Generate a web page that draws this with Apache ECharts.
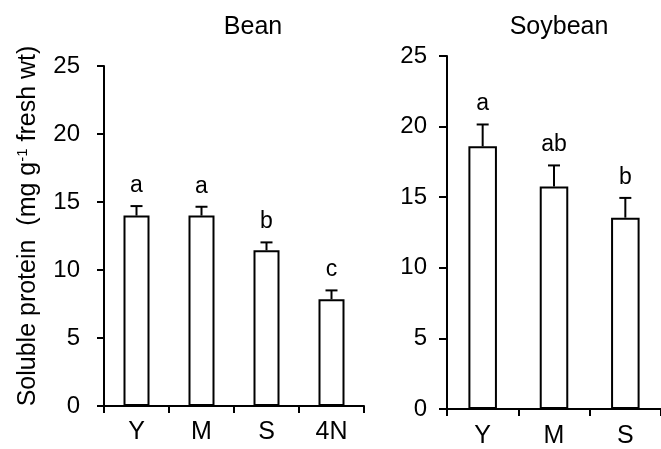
<!DOCTYPE html>
<html><head><meta charset="utf-8">
<script src="https://cdn.jsdelivr.net/npm/echarts@6/dist/echarts.min.js"></script>
<style>html,body{margin:0;padding:0;background:#fff}#c{width:661px;height:449px}</style>
</head><body><div id="c"></div>
<script>
// Bean panel
var beanCats = ['Y', 'M', 'S', '4N'];
var beanMeans = [14.0, 14.0, 11.45, 7.85];
var beanErr = [0.7, 0.65, 0.58, 0.65];
var beanLetters = ['a', 'a', 'b', 'c'];
// Soybean panel
var soyCats = ['Y', 'M', 'S'];
var soyMeans = [18.6, 15.75, 13.55];
var soyErr = [1.55, 1.5, 1.4];
var soyLetters = ['a', 'ab', 'b'];
var yTicks = [0, 5, 10, 15, 20, 25];

var FONT = 'Liberation Sans, Arial, sans-serif';
var FS_Y = 24, FS_X = 25, FS_T = 25, FS_L = 23, FS_N = 25;

function errData(means, errs, letters) {
  return means.map(function (m, i) { return [i, m, errs[i], letters[i]]; });
}
function renderErr(params, api) {
  var x = api.value(0), m = api.value(1), e = api.value(2);
  var p0 = api.coord([x, m]);
  var p1 = api.coord([x, m + e]);
  var half = 6;
  var letter = (params.seriesIndex === 1 ? beanLetters : soyLetters)[params.dataIndex];
  return {
    type: 'group',
    children: [
      { type: 'line', shape: { x1: p0[0], y1: p0[1], x2: p1[0], y2: p1[1] }, style: { stroke: '#000', lineWidth: 2 } },
      { type: 'line', shape: { x1: p1[0] - half, y1: p1[1], x2: p1[0] + half, y2: p1[1] }, style: { stroke: '#000', lineWidth: 2 } },
      { type: 'text', style: { x: p1[0], y: p1[1] - 9, text: letter, textAlign: 'center', textVerticalAlign: 'bottom', fill: '#000', font: FS_L + 'px ' + FONT } }
    ]
  };
}

var axisLineStyle = { color: '#000', width: 2 };
var chart = echarts.init(document.getElementById('c'));
chart.setOption({
  backgroundColor: '#fff',
  animation: false,
  title: [
    { text: 'Bean', left: 248, top: 10, textAlign: 'center', textStyle: { fontFamily: FONT, fontSize: FS_T, fontWeight: 'normal', color: '#000' } },
    { text: 'Soybean', left: 554, top: 10, textAlign: 'center', textStyle: { fontFamily: FONT, fontSize: FS_T, fontWeight: 'normal', color: '#000' } }
  ],
  grid: [
    { left: 104, top: 66, width: 260, height: 340 },
    { left: 447, top: 56, width: 217, height: 354 }
  ],
  xAxis: [
    { type: 'category', gridIndex: 0, data: beanCats, boundaryGap: true,
      axisLine: { lineStyle: axisLineStyle }, axisTick: { show: true, length: 7, lineStyle: axisLineStyle },
      axisLabel: { color: '#000', fontFamily: FONT, fontSize: FS_X, margin: 14 } },
    { type: 'category', gridIndex: 1, data: soyCats, boundaryGap: true,
      axisLine: { lineStyle: axisLineStyle }, axisTick: { show: true, length: 7, lineStyle: axisLineStyle },
      axisLabel: { color: '#000', fontFamily: FONT, fontSize: FS_X, margin: 15 } }
  ],
  yAxis: [
    { type: 'value', gridIndex: 0, min: 0, max: 25, interval: 5,
      name: '{t|Soluble protein  (mg g}{s|-1}{t| fresh wt)}', nameLocation: 'middle', nameGap: 62, nameRotate: 90,
      nameTextStyle: { color: '#000', fontFamily: FONT, fontSize: FS_N, padding: [0, 0, 0, 20],
        rich: { t: { fontFamily: FONT, fontSize: FS_N, color: '#000' }, s: { fontFamily: FONT, fontSize: 15, color: '#000', padding: [0, 0, 12, 0] } } },
      axisLine: { show: true, lineStyle: axisLineStyle }, axisTick: { show: true, length: 7, lineStyle: axisLineStyle },
      splitLine: { show: false },
      axisLabel: { color: '#000', fontFamily: FONT, fontSize: FS_Y, margin: 24 } },
    { type: 'value', gridIndex: 1, min: 0, max: 25, interval: 5,
      axisLine: { show: true, lineStyle: axisLineStyle }, axisTick: { show: true, length: 8, lineStyle: axisLineStyle },
      splitLine: { show: false },
      axisLabel: { color: '#000', fontFamily: FONT, fontSize: FS_Y, margin: 20 } }
  ],
  series: [
    { type: 'bar', xAxisIndex: 0, yAxisIndex: 0, data: beanMeans, barWidth: '40%',
      itemStyle: { color: '#fff', borderColor: '#000', borderWidth: 2 } },
    { type: 'custom', xAxisIndex: 0, yAxisIndex: 0, data: errData(beanMeans, beanErr, beanLetters), renderItem: renderErr, z: 5 },
    { type: 'bar', xAxisIndex: 1, yAxisIndex: 1, data: soyMeans, barWidth: '40%',
      itemStyle: { color: '#fff', borderColor: '#000', borderWidth: 2 } },
    { type: 'custom', xAxisIndex: 1, yAxisIndex: 1, data: errData(soyMeans, soyErr, soyLetters), renderItem: renderErr, z: 5 }
  ]
});
</script></body></html>
